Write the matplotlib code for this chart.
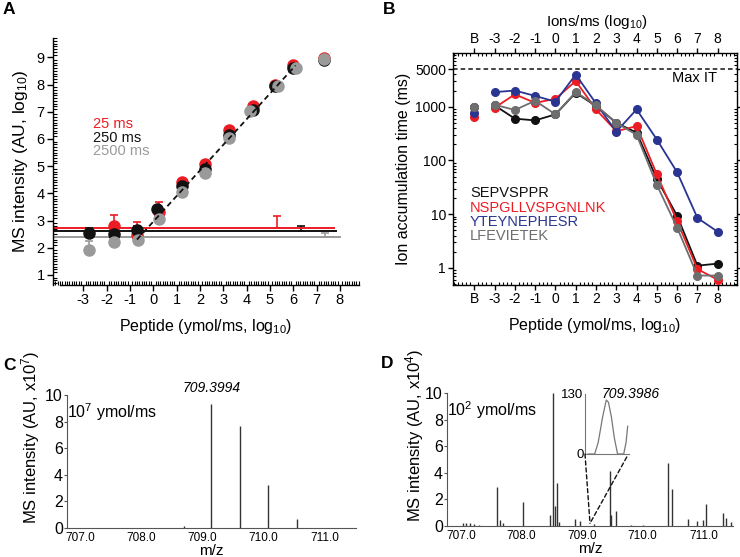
import matplotlib
matplotlib.use("Agg")
import matplotlib.pyplot as plt
from matplotlib.ticker import AutoMinorLocator, NullFormatter, LogLocator
from matplotlib.patches import ConnectionPatch

plt.rcParams['font.family'] = ['Liberation Sans', 'DejaVu Sans']
plt.rcParams['mathtext.fontset'] = 'custom'
plt.rcParams['mathtext.rm'] = 'Liberation Sans'
plt.rcParams['mathtext.it'] = 'Liberation Sans:italic'
plt.rcParams['axes.linewidth'] = 1.0

W, H = 740, 557
RED = '#ec1c24'
BLK = '#111111'
GRY_A = '#9a9a9a'
GRY_B = '#6e6e6e'
BLUE = '#2a3592'

# ---------------- Panel A data ----------------
a_x_red = [-1.68, -0.71, 0.25, 1.22, 2.21, 3.26, 4.29, 5.22, 6.0, 7.3]
a_y_red = [2.79, 2.46, 3.32, 4.42, 5.09, 6.31, 7.20, 8.00, 8.72, 8.96]
a_x_blk = [-2.74, -1.68, -0.71, 0.17, 1.22, 2.21, 3.26, 4.29, 5.22, 6.0, 7.3]
a_y_blk = [2.54, 2.51, 2.64, 3.41, 4.28, 4.89, 6.16, 7.05, 7.95, 8.62, 8.90]
a_x_gry = [-2.74, -1.68, -0.66, 0.25, 1.22, 2.21, 3.26, 4.14, 5.34, 6.1, 7.3]
a_y_gry = [1.93, 2.21, 2.30, 3.04, 4.06, 4.74, 6.03, 7.04, 7.95, 8.62, 8.93]
# upper error bars on low-level points (x, y, upper)
a_err_red = ([-1.68, -0.71, 0.25], [2.79, 2.46, 3.32], [0.41, 0.49, 0.35])
a_err_blk = ([-2.74, -0.71], [2.54, 2.64], [0.17, 0.17])
a_err_gry = ([-2.74], [1.93], [0.33])
# blank (background) levels
blank_levels = {'red': 2.71, 'blk': 2.60, 'gry': 2.40}
blank_ends = {'red': 7.74, 'blk': 7.85, 'gry': 8.0}
blank_err_x = {'red': 5.3, 'blk': 6.35, 'gry': 7.36}
blank_err_up = {'red': 0.45, 'blk': 0.21, 'gry': 0.14}
fit_x = [-0.7, 6.1]
fit_y = [2.3, 8.7]
a_xticks = [-3, -2, -1, 0, 1, 2, 3, 4, 5, 6, 7, 8]
a_yticks = [1, 2, 3, 4, 5, 6, 7, 8, 9]

# ---------------- Panel B data ----------------
b_labels = ['B', '-3', '-2', '-1', '0', '1', '2', '3', '4', '5', '6', '7', '8']
b_names = ['SEPVSPPR', 'NSPGLLVSPGNLNK', 'YTEYNEPHESR', 'LFEVIETEK']
b_blank = [1000, 630, 770, 1000]
b_sep = [1060, 600, 556, 720, 1820, 1030, 500, 330, 45, 9.3, 1.1, 1.2]
b_nsp = [955, 1700, 1180, 1400, 3000, 890, 350, 435, 55, 7.4, 0.95, 0.6]
b_yte = [1870, 2000, 1590, 1240, 3970, 1150, 343, 890, 245, 60, 8.5, 4.7]
b_lfe = [1090, 870, 1290, 720, 1870, 1060, 500, 300, 35, 5.6, 0.72, 0.72]
max_it = 5000

# ---------------- Panel C data ----------------
c_mz = [708.70, 709.15, 709.62, 710.08, 710.55]
c_int = [0.12, 9.3, 7.7, 3.2, 0.65]

# ---------------- Panel D data ----------------
d_mz = [707.03, 707.08, 707.15, 707.22, 707.30, 707.59, 707.65, 707.70, 708.02,
        708.47, 708.52, 708.55, 708.58, 708.62, 708.88, 708.97, 709.20, 709.46,
        709.48, 709.56, 709.80, 710.00, 710.41, 710.49, 710.75, 710.89, 711.00,
        711.04, 711.33, 711.38, 711.45]
d_int = [0.2, 0.25, 0.2, 0.15, 0.1, 2.95, 0.45, 0.2, 1.78,
         0.8, 10.0, 1.5, 3.2, 0.3, 0.55, 0.4, 0.15, 4.15,
         0.8, 1.1, 0.1, 0.1, 4.7, 2.75, 0.55, 0.35, 0.45,
         1.65, 1.0, 0.6, 0.3]
ins_mz = [709.386, 709.3906, 709.393, 709.396, 709.3985, 709.400, 709.402,
          709.404, 709.4062, 709.4104, 709.412, 709.4131]
ins_int = [0, 0, 25, 80, 117, 112, 80, 35, 0, 0, 25, 60]


def box(l, t, r, b):
    return [l / W, 1 - b / H, (r - l) / W, (b - t) / H]


def fx(px):
    return px / W


def fy(py):
    return 1 - py / H


fig = plt.figure(figsize=(7.4, 5.57), dpi=100)

# ================= Panel A =================
axA = fig.add_axes(box(53, 38, 359, 285))
axA.set_xlim(-4.30, 8.82)
axA.set_ylim(0.63, 9.71)
for k, col in [('gry', GRY_A), ('blk', BLK), ('red', RED)]:
    axA.plot([-4.30, blank_ends[k]], [blank_levels[k]] * 2, color=col, lw=1.4, zorder=2)
    axA.errorbar([blank_err_x[k]], [blank_levels[k]], yerr=[[0], [blank_err_up[k]]],
                 fmt='none', ecolor=col, elinewidth=1.2, capsize=3, capthick=1.2, zorder=2)
axA.plot(fit_x, fit_y, ls=(0, (3, 2)), color=BLK, lw=1.3, zorder=5)
for (ex, ey, eu), col in [(a_err_gry, GRY_A), (a_err_red, RED), (a_err_blk, BLK)]:
    axA.errorbar(ex, ey, yerr=[[0] * len(eu), eu], fmt='none', ecolor=col,
                 elinewidth=1.2, capsize=3, capthick=1.2, zorder=3)
axA.plot(a_x_red, a_y_red, 'o', color=RED, ms=8, zorder=4)
axA.plot(a_x_blk, a_y_blk, 'o', color=BLK, ms=8, zorder=4)
axA.plot(a_x_gry, a_y_gry, 'o', color=GRY_A, ms=8, zorder=4)
axA.spines['top'].set_visible(False)
axA.spines['right'].set_visible(False)
axA.spines['bottom'].set_bounds(-4.0, 8.82)
axA.set_xticks(a_xticks)
axA.set_xticklabels([str(v) for v in a_xticks])
axA.set_yticks(a_yticks)
axA.xaxis.set_minor_locator(AutoMinorLocator(10))
axA.yaxis.set_minor_locator(AutoMinorLocator(10))
axA.tick_params(which='major', direction='out', length=4, width=1, labelsize=10.5, pad=2)
axA.tick_params(which='minor', direction='in', length=3, width=0.8)
axA.set_ylabel('MS intensity (AU, log$_{10}$)', fontsize=12.5, labelpad=5)
axA.set_xlabel('Peptide (ymol/ms, log$_{10}$)', fontsize=11.5, labelpad=7)
fig.text(fx(93), fy(124), '25 ms', color=RED, fontsize=10.5, va='center')
fig.text(fx(93), fy(137.5), '250 ms', color=BLK, fontsize=10.5, va='center')
fig.text(fx(93), fy(151), '2500 ms', color=GRY_A, fontsize=10.5, va='center')

# ================= Panel B =================
axB = fig.add_axes(box(453, 53, 737, 285))
axB.set_yscale('log')
axB.set_xlim(-1.05, 12.95)
axB.set_ylim(0.48, 10000)
pos = list(range(1, 13))
series = [(b_sep, BLK), (b_nsp, RED), (b_yte, BLUE), (b_lfe, GRY_B)]
axB.axhline(max_it, ls=(0, (3, 2)), color=BLK, lw=1.1)
for i, (vals, col) in enumerate(series):
    axB.plot(pos, vals, '-o', color=col, lw=1.3, ms=5.5, zorder=3 + i)
    axB.plot([0], [b_blank[i]], 'o', color=col, ms=5.5, zorder=3 + i)
axB.set_xticks(range(13))
axB.set_xticklabels(b_labels)
axB.xaxis.set_minor_locator(AutoMinorLocator(5))
axB.set_yticks([1, 10, 100, 1000, 5000])
axB.set_yticklabels(['1', '10', '100', '1000', '5000'])
axB.yaxis.set_minor_locator(LogLocator(base=10, subs=[2, 3, 4, 5, 6, 7, 8, 9]))
axB.yaxis.set_minor_formatter(NullFormatter())
axB.tick_params(which='major', direction='out', length=3.5, width=1, labelsize=10,
                top=True, labeltop=True, right=True, pad=1.5)
axB.tick_params(which='minor', direction='in', length=2.5, width=0.8, top=True, right=True)
axB.set_ylabel('Ion accumulation time (ms)', fontsize=11.5, labelpad=3)
axB.set_xlabel('Peptide (ymol/ms, log$_{10}$)', fontsize=11.5, labelpad=7)
fig.text(fx(597), fy(22), 'Ions/ms (log$_{10}$)', fontsize=11, ha='center', va='center')
fig.text(fx(717), fy(78), 'Max IT', fontsize=10.5, ha='right', va='center')
for name, col, yy in zip(b_names, [BLK, RED, BLUE, GRY_B], [193, 208, 222, 236]):
    fig.text(fx(470), fy(yy), name, color=col, fontsize=10.5, va='center')

# ================= Panel C =================
axC = fig.add_axes(box(67, 395, 356, 528))
axC.vlines(c_mz, 0, c_int, color='#333333', lw=1.0)
axC.set_xlim(706.79, 711.51)
axC.set_ylim(0, 10)
axC.set_xticks([707, 708, 709, 710, 711])
axC.set_xticklabels(['707.0', '708.0', '709.0', '710.0', '711.0'])
axC.set_yticks([0, 2, 4, 6, 8, 10])
for s in ['top', 'right']:
    axC.spines[s].set_visible(False)
for s in ['left', 'bottom']:
    axC.spines[s].set_color('#555555')
    axC.spines[s].set_linewidth(0.8)
axC.tick_params(axis='y', labelsize=11.5, length=2, pad=1, color='#555555')
axC.tick_params(axis='x', labelsize=8.5, length=0, pad=3)
axC.set_ylabel('MS intensity (AU, x10$^{7}$)', fontsize=12)
axC.yaxis.set_label_coords(-0.085, 0.68)
axC.set_xlabel('m/z', fontsize=11, labelpad=0)
axC.text(0.0, 0.87, '10$^{7}$ ymol/ms', transform=axC.transAxes, fontsize=11.5, va='center')
axC.text(709.15, 10.0, '709.3994', fontsize=10, style='italic', ha='center', va='bottom')

# ================= Panel D =================
axD = fig.add_axes(box(447, 393, 733, 526))
axD.vlines(d_mz, 0, d_int, color='#333333', lw=1.0)
axD.set_xlim(706.77, 711.49)
axD.set_ylim(0, 10)
axD.set_xticks([707, 708, 709, 710, 711])
axD.set_xticklabels(['707.0', '708.0', '709.0', '710.0', '711.0'])
axD.set_yticks([0, 2, 4, 6, 8, 10])
for s in ['top', 'right']:
    axD.spines[s].set_visible(False)
for s in ['left', 'bottom']:
    axD.spines[s].set_color('#555555')
    axD.spines[s].set_linewidth(0.8)
axD.tick_params(axis='y', labelsize=11.5, length=2, pad=1, color='#555555')
axD.tick_params(axis='x', labelsize=8.5, length=0, pad=3)
axD.set_ylabel('MS intensity (AU, x10$^{4}$)', fontsize=12)
axD.yaxis.set_label_coords(-0.075, 0.68)
axD.set_xlabel('m/z', fontsize=11, labelpad=0)
axD.text(0.0, 0.87, '10$^{2}$ ymol/ms', transform=axD.transAxes, fontsize=11.5, va='center')

axI = fig.add_axes(box(585, 394, 629, 454))
axI.plot(ins_mz, ins_int, color='#777777', lw=0.9)
axI.set_xlim(709.384, 709.414)
axI.set_ylim(0, 130)
for s in ['top', 'right']:
    axI.spines[s].set_visible(False)
for s in ['left', 'bottom']:
    axI.spines[s].set_color('#777777')
    axI.spines[s].set_linewidth(0.8)
axI.set_xticks([])
axI.set_yticks([0, 130])
axI.set_yticklabels(['0', '130'])
axI.tick_params(axis='y', length=0, labelsize=9.5, pad=1)
axI.patch.set_alpha(0)
axI.text(1.03, 1.0, '709.3986', transform=axI.transAxes, fontsize=10,
         style='italic', ha='center', va='center')
for xa, ya in [(0.0, 0.0), (0.95, -0.05)]:
    con = ConnectionPatch(xyA=(xa, ya), coordsA=axI.transAxes,
                          xyB=(709.13, 0.2), coordsB=axD.transData,
                          ls=(0, (3, 2)), color=BLK, lw=1.0)
    fig.add_artist(con)

# panel letters
for letter, x, y in [('A', 9, 10), ('B', 389, 10), ('C', 9, 365), ('D', 387, 364)]:
    fig.text(fx(x), fy(y), letter, fontsize=12.5, fontweight='bold', ha='center', va='center')

fig.savefig('out.png', dpi=100)
